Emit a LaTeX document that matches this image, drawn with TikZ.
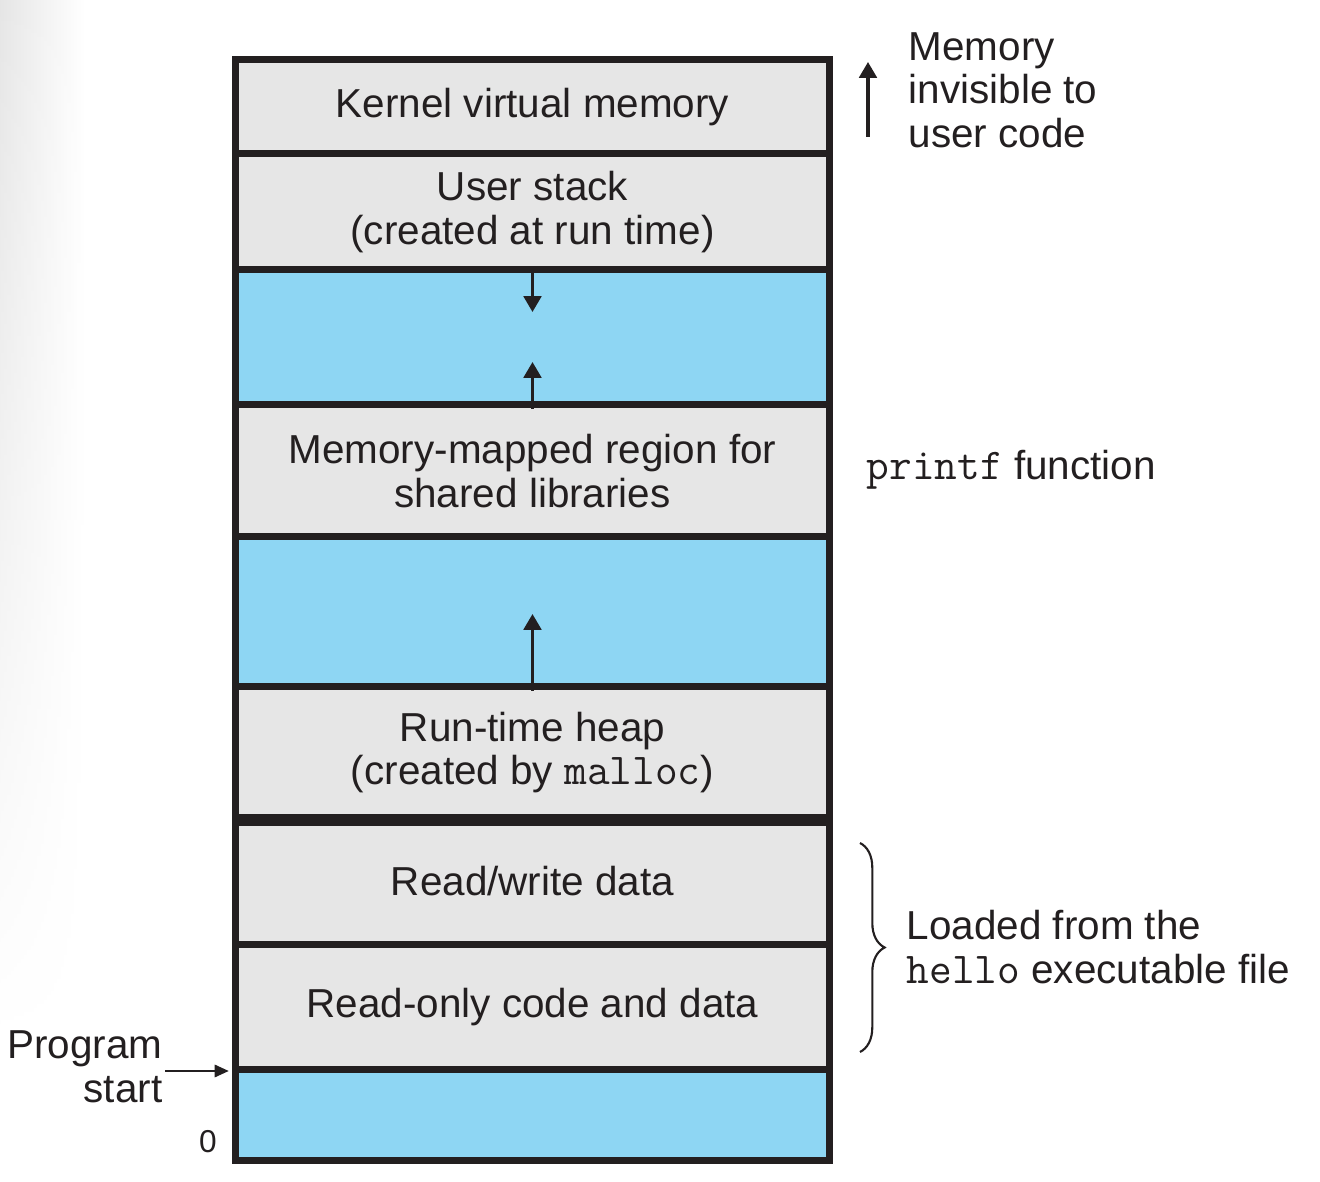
\documentclass[tikz,border=0pt]{standalone}
\usepackage{fontspec}
\setmainfont{Liberation Sans}
\setmonofont{Latin Modern Mono}[Scale=1.09]
\usetikzlibrary{arrows.meta,decorations.pathreplacing,fadings}
\definecolor{regblue}{HTML}{8ED6F3}
\definecolor{reggray}{HTML}{E6E6E6}
\definecolor{ink}{HTML}{231F20}
\tikzfading[name=fadedown, top color=transparent!0, bottom color=transparent!100]
\begin{document}
\begin{tikzpicture}[x=0.01cm,y=-0.01cm,
  font=\fontsize{11.5}{12.4}\selectfont,
  region/.style={rectangle, draw=ink, line width=2pt, minimum width=5.93cm,
    inner sep=0pt, align=center, text=ink},
  grayreg/.style={region, fill=reggray},
  bluereg/.style={region, fill=regblue},
  growarrow/.style={draw=ink, line width=0.9pt, -{Triangle[length=4.5pt,width=5pt]}},
  thinarrow/.style={draw=ink, line width=0.6pt, -{Triangle[length=4pt,width=3.5pt]}},
  lbl/.style={text=ink, inner sep=0pt}]

\useasboundingbox (0,0) rectangle (1320,1182);
\shade[left color=black!10, right color=white, path fading=fadedown] (0,0) rectangle (85,1040);

% regions
\node[grayreg, minimum height=0.945cm] (kern) at (532.5,106.75) {Kernel virtual memory};
\node[grayreg, minimum height=1.16cm] (stack) at (532.5,212) {User stack\\(created at run time)};
\node[bluereg, minimum height=1.35cm] (gap1) at (532.5,337.5) {};
\node[grayreg, minimum height=1.32cm] (mmap) at (532.5,471) {Memory-mapped region for\\shared libraries};
\node[bluereg, minimum height=1.50cm] (gap2) at (532.5,612) {};
\node[grayreg, minimum height=1.31cm] (heap) at (532.5,752.5) {Run-time heap\\(created by {\ttfamily malloc})};
\node[grayreg, minimum height=1.27cm] (rw) at (532.5,881.5) {Read/write data};
\node[grayreg, minimum height=1.25cm] (ro) at (532.5,1007.5) {Read-only code and data};
\node[bluereg, minimum height=0.90cm] (gap0) at (532.5,1115) {};
\draw[ink, line width=2.8pt] (heap.south west) -- (heap.south east);

% growth arrows
\coordinate (stackdown) at (532.5,312);
\coordinate (mmapup) at (532.5,362);
\coordinate (heapup) at (532.5,614);
\draw[growarrow] (gap1.north) -- (stackdown);
\draw[growarrow] (gap1.south) -- (mmapup);
\draw[growarrow] (gap2.south) -- (heapup);

% right-hand labels
\coordinate (invbot) at (868,137);
\coordinate (invtop) at (868,62);
\draw[growarrow] (invbot) -- (invtop);
\node[lbl, anchor=west, align=left] (invis) at (908,90) {Memory\\invisible to\\user code};
\node[lbl, anchor=west] (printf) at (866,470) {{\ttfamily printf} function};

\coordinate (bracetop) at (860,843);
\coordinate (bracebot) at (860,1052);
\draw[ink, line width=0.6pt, decorate, decoration={brace, amplitude=7pt}] (bracetop) -- (bracebot);
\node[lbl, anchor=west, align=left] (loaded) at (906,947) {Loaded from the\\{\ttfamily hello} executable file};

% left-hand labels
\node[lbl, anchor=east, align=right] (pstart) at (163,1067) {Program\\start};
\coordinate (pstartend) at (165,1071);
\draw[thinarrow, shorten >=1pt] (pstartend) -- (pstartend -| gap0.west);
\node[lbl, font=\fontsize{9}{10}\selectfont] (zero) at (208,1142) {0};
\end{tikzpicture}
\end{document}
